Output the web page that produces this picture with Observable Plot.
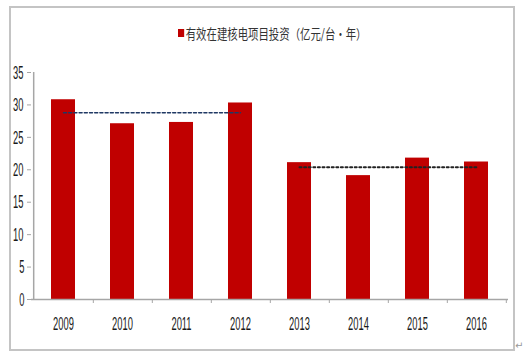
<!DOCTYPE html>
<html><head><meta charset="utf-8">
<script src="https://cdn.jsdelivr.net/npm/d3@7"></script>
<script src="https://cdn.jsdelivr.net/npm/@observablehq/plot@0.6"></script>
<style>
body{margin:0;background:#fff;}
#wrap{position:relative;width:526px;height:355px;overflow:hidden;}
#border{position:absolute;left:9px;top:6px;width:502px;height:341px;border:2px solid #c4c4c4;}
#legend{position:absolute;left:178px;top:23px;font:13.5px "Noto Sans CJK SC",sans-serif;color:#333;white-space:nowrap;display:flex;align-items:center;transform:scale(0.77,1);transform-origin:left center;}
#legend span.sw{display:inline-block;width:8px;height:8px;background:#c00000;margin-right:2px;}
#mark{position:absolute;left:515px;top:340px;font:10px "DejaVu Sans",sans-serif;color:#999;}
#chart{position:absolute;left:0;top:0;}
</style></head><body>
<div id="wrap"><div id="border"></div><div id="chart"></div>
<div id="legend"><span class="sw"></span>有效在建核电项目投资（亿元/台·年）</div>
<div id="mark">↵</div></div>
<script>
const years = ["2009","2010","2011","2012","2013","2014","2015","2016"];
const investment = [30.8, 27.1, 27.3, 30.3, 21.1, 19.1, 21.8, 21.2];
const yTicks = [0,5,10,15,20,25,30,35];
const avgPeriod1 = ["2009","2012"];
const avgValue1 = 28.8;
const avgPeriod2 = ["2013","2016"];
const avgValue2 = 20.4;

const W = 526, H = 355, mL = 31, mR = 18, mT = 72, mB = 56;
const step = (W - mL - mR) / years.length;
const data = years.map((y,i)=>({year:y, value:investment[i]}));
const avg1 = avgPeriod1.map(y=>({year:y, value:avgValue1}));
const avg2 = avgPeriod2.map(y=>({year:y, value:avgValue2}));
const tickLen = 4 * 35 / (H - mT - mB);

const chart = Plot.plot({
  width: W, height: H,
  marginLeft: mL, marginRight: mR, marginTop: mT, marginBottom: mB,
  style: {fontFamily: "'Liberation Sans',Arial,sans-serif", fontSize: "13px", color: "#1a1a1a", background: "transparent"},
  x: {domain: years, paddingInner: 0.6, paddingOuter: 0.3, label: null},
  y: {domain: [0,35], label: null},
  marks: [
    Plot.barY(data, {x: "year", y: "value", fill: "#c00000"}),
    Plot.ruleY([0], {stroke: "#a6a6a6", strokeWidth: 1.5}),
    Plot.ruleX(years.slice(0,1), {x: d=>d, dx: -step/2, y1: 0, y2: 35, stroke: "#a6a6a6", strokeWidth: 1.5}),
    Plot.ruleX(years, {x: d=>d, dx: step/2, y1: 0, y2: -tickLen, stroke: "#a6a6a6", strokeWidth: 1}),
    Plot.line(avg1, {x: "year", y: "value", stroke: "#1f3864", strokeWidth: 1.5, strokeDasharray: "3,2.2"}),
    Plot.line(avg2, {x: "year", y: "value", stroke: "#222", strokeWidth: 2, strokeDasharray: "2,2.6"}),
    Plot.axisY({ticks: yTicks, tickSize: 4, tickPadding: 2, stroke: "#a6a6a6", fill: "#1a1a1a", fontSize: 13}),
    Plot.axisX({tickSize: 0, tickPadding: 19, fill: "#1a1a1a", fontSize: 13})
  ]
});
document.getElementById("chart").appendChild(chart);
// condensed, tall look of the original tick labels: scale each label about its own centre
const svgRoot = chart.tagName.toLowerCase() === "svg" ? chart : chart.querySelector("svg");
chart.querySelectorAll('g[aria-label="y-axis tick label"] text, g[aria-label="x-axis tick label"] text')
  .forEach(el => {
    const r = el.getBoundingClientRect();
    const p = svgRoot.createSVGPoint();
    p.x = r.x + r.width / 2; p.y = r.y + r.height / 2;
    const q = p.matrixTransform(el.parentNode.getScreenCTM().inverse());
    const t = el.getAttribute("transform") || "";
    el.setAttribute("transform", `translate(${q.x},${q.y}) scale(0.72,1.45) translate(${-q.x},${-q.y}) ${t}`);
  });
</script>
</body></html>
